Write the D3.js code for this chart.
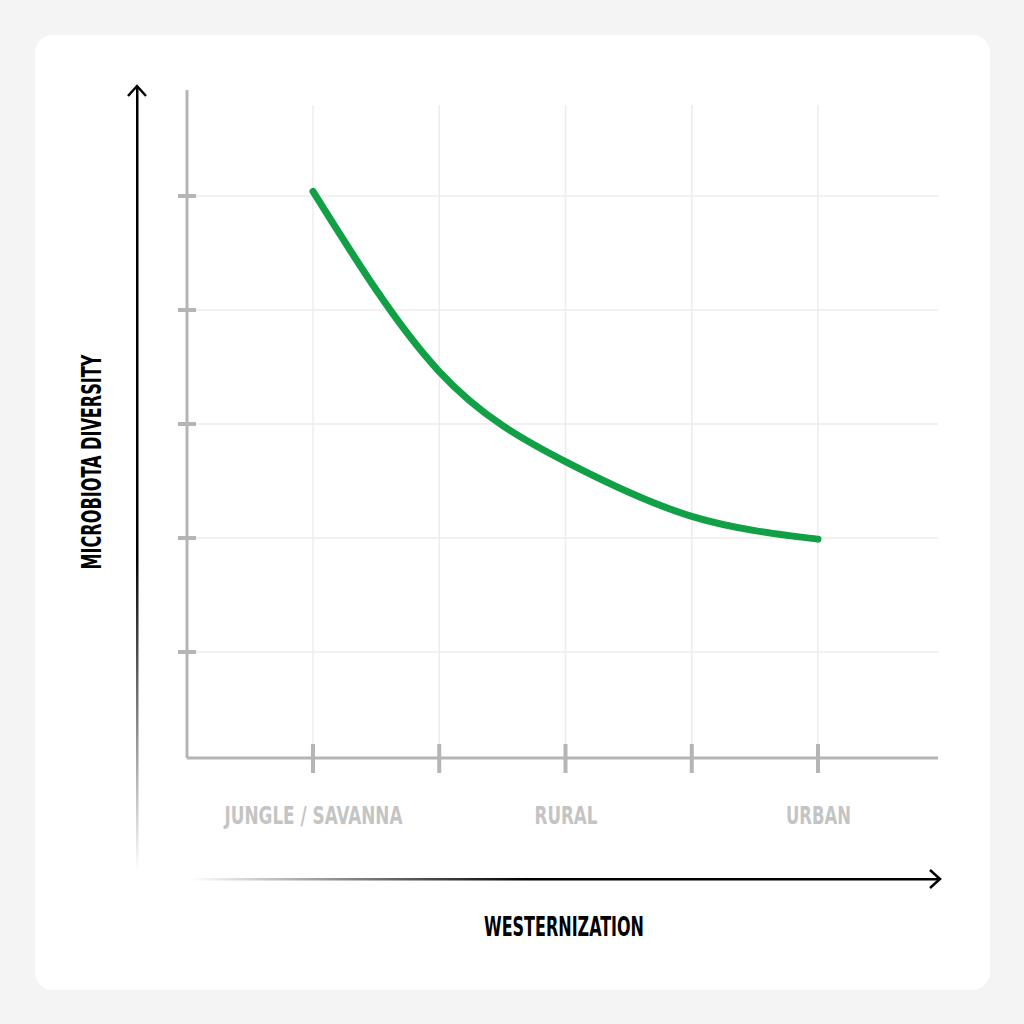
<!DOCTYPE html>
<html><head><meta charset="utf-8">
<script src="https://cdn.jsdelivr.net/npm/d3@7"></script>
<style>body{margin:0;background:#f4f4f4;}svg{display:block;}</style>
</head><body>
<script>
// chart data
var stages = [0, 1, 2, 3, 4];
var stageLabels = ["JUNGLE / SAVANNA", "", "RURAL", "", "URBAN"];
var labelWidths = [178, 0, 63, 0, 65];
var diversity = [5.04, 3.46, 2.67, 2.19, 1.99];
var yTicks = [1, 2, 3, 4, 5];

var svg = d3.select("body").append("svg").attr("width", 1024).attr("height", 1024);
var defs = svg.append("defs");
var f = "'DejaVu Sans Condensed', 'Liberation Sans Narrow', sans-serif";

svg.append("rect").attr("x", 35).attr("y", 35).attr("width", 955).attr("height", 955)
   .attr("rx", 18).attr("fill", "#fff");

var x = d3.scaleLinear().domain([0, 4]).range([313, 818]);
var y = d3.scaleLinear().domain([1, 5]).range([652, 196]);
var baseY = 758, baseX = 187;

// grid
svg.selectAll(".vg").data(stages).enter().append("line")
   .attr("x1", d => x(d)).attr("x2", d => x(d)).attr("y1", 105).attr("y2", baseY)
   .attr("stroke", "#ececec").attr("stroke-width", 1.5);
svg.selectAll(".hg").data(yTicks).enter().append("line")
   .attr("x1", baseX).attr("x2", 938).attr("y1", d => y(d)).attr("y2", d => y(d))
   .attr("stroke", "#ececec").attr("stroke-width", 1.5);

// axes
var xAxis = d3.axisBottom(x).tickValues(stages).tickSize(0).tickPadding(48)
   .tickFormat((d, i) => stageLabels[i]);
var gx = svg.append("g").attr("transform", "translate(0," + baseY + ")").call(xAxis);
gx.select(".domain").remove();
gx.selectAll("text").attr("font-family", f).attr("font-weight", "bold")
   .attr("font-size", 25).attr("fill", "#c4c4c4")
   .each(function(d, i) {
     if (labelWidths[i]) d3.select(this).attr("textLength", labelWidths[i]).attr("lengthAdjust", "spacingAndGlyphs");
   });
svg.append("line").attr("x1", baseX).attr("x2", 938).attr("y1", baseY).attr("y2", baseY)
   .attr("stroke", "#b5b5b5").attr("stroke-width", 3);
svg.append("line").attr("x1", baseX).attr("x2", baseX).attr("y1", 90).attr("y2", baseY)
   .attr("stroke", "#b5b5b5").attr("stroke-width", 3);
svg.selectAll(".xt").data(stages).enter().append("line")
   .attr("x1", d => x(d)).attr("x2", d => x(d)).attr("y1", 744).attr("y2", 773)
   .attr("stroke", "#b5b5b5").attr("stroke-width", 4);
svg.selectAll(".yt").data(yTicks).enter().append("line")
   .attr("x1", 178).attr("x2", 196).attr("y1", d => y(d)).attr("y2", d => y(d))
   .attr("stroke", "#b5b5b5").attr("stroke-width", 4);

// curve
var line = d3.line().x((d, i) => x(stages[i])).y(d => y(d)).curve(d3.curveNatural);
svg.append("path").datum(diversity).attr("d", line).attr("fill", "none")
   .attr("stroke", "#12a046").attr("stroke-width", 7).attr("stroke-linecap", "round");

// arrows with fading tails
var gh = defs.append("linearGradient").attr("id", "gh");
gh.append("stop").attr("offset", 0).attr("stop-color", "#000").attr("stop-opacity", 0);
gh.append("stop").attr("offset", 0.45).attr("stop-color", "#000").attr("stop-opacity", 1);
var gv = defs.append("linearGradient").attr("id", "gv").attr("x1", 0).attr("y1", 1).attr("x2", 0).attr("y2", 0);
gv.append("stop").attr("offset", 0).attr("stop-color", "#000").attr("stop-opacity", 0);
gv.append("stop").attr("offset", 0.4).attr("stop-color", "#000").attr("stop-opacity", 1);

svg.append("rect").attr("x", 190).attr("y", 878).attr("width", 748).attr("height", 2.5).attr("fill", "url(#gh)");
svg.append("path").attr("d", "M930,870 L940,879 L930,888").attr("fill", "none")
   .attr("stroke", "#000").attr("stroke-width", 2.5);
svg.append("rect").attr("x", 136).attr("y", 86).attr("width", 2.5).attr("height", 785).attr("fill", "url(#gv)");
svg.append("path").attr("d", "M128,96 L137,86 L146,96").attr("fill", "none")
   .attr("stroke", "#000").attr("stroke-width", 2.5);

// titles
svg.append("text").attr("x", 564).attr("y", 936).attr("text-anchor", "middle")
   .attr("font-family", f).attr("font-weight", "bold").attr("font-size", 27)
   .attr("textLength", 160).attr("lengthAdjust", "spacingAndGlyphs")
   .attr("fill", "#000").text("WESTERNIZATION");
svg.append("text").attr("transform", "translate(101,462) rotate(-90)").attr("text-anchor", "middle")
   .attr("font-family", f).attr("font-weight", "bold").attr("font-size", 27)
   .attr("textLength", 215).attr("lengthAdjust", "spacingAndGlyphs")
   .attr("fill", "#000").text("MICROBIOTA DIVERSITY");
</script>
</body></html>
